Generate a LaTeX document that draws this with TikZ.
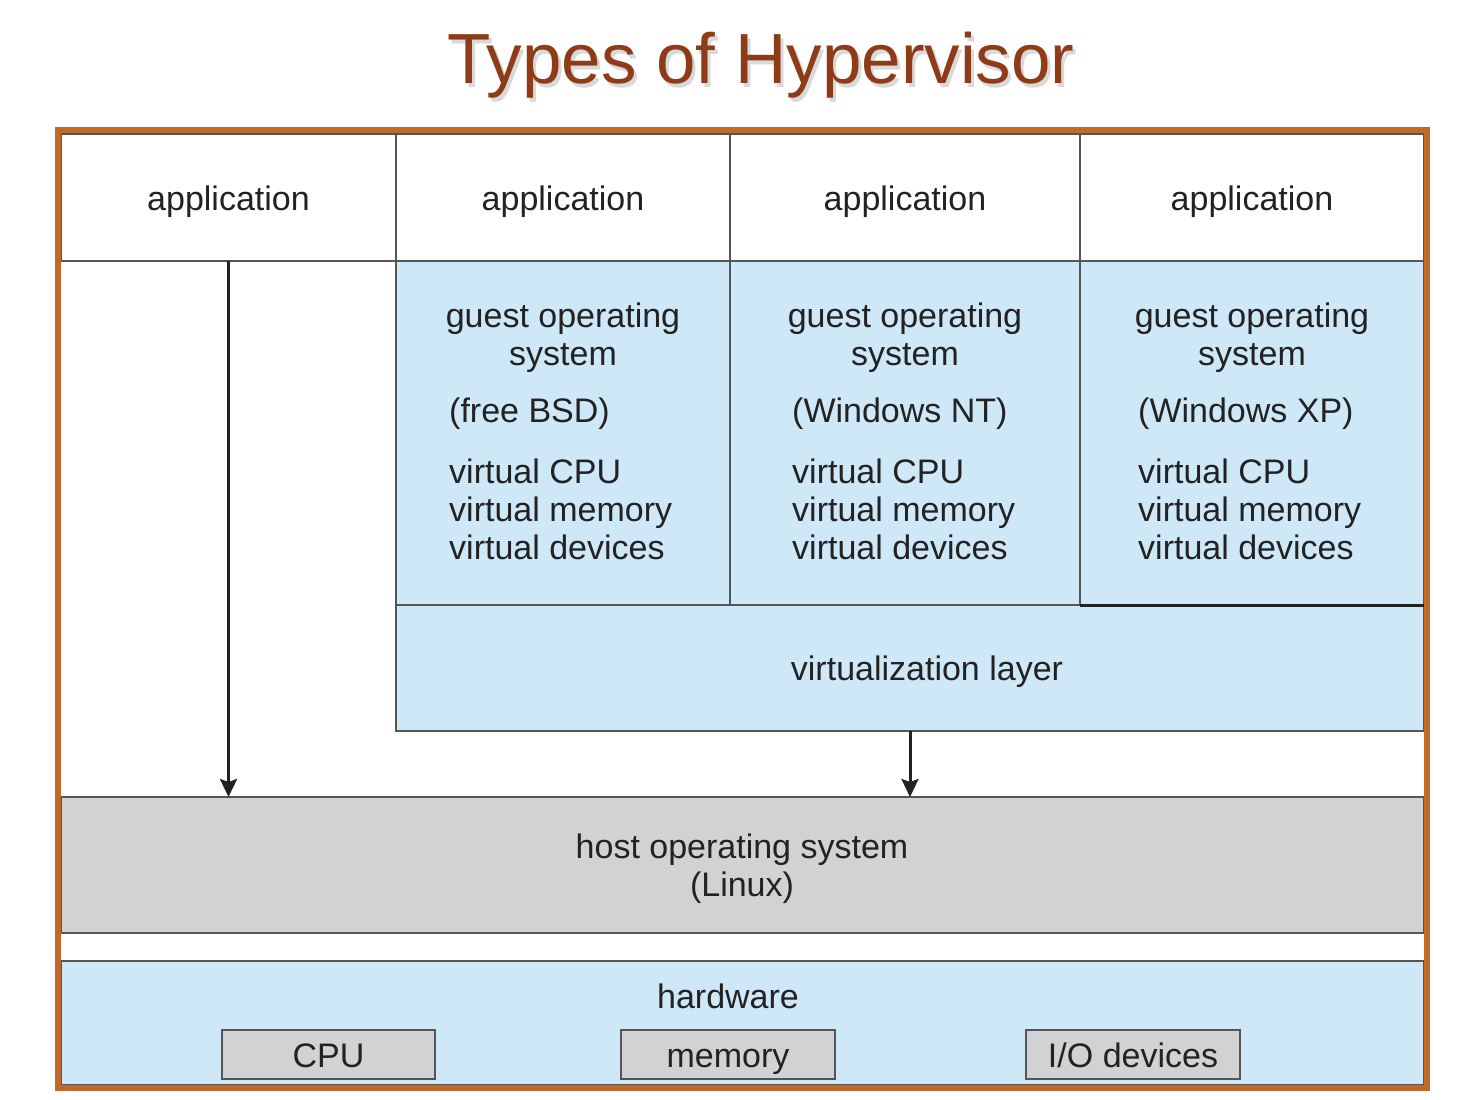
\documentclass[tikz,border=0pt]{standalone}
\usepackage{fontspec}
\setmainfont{Liberation Sans}
\usetikzlibrary{arrows.meta}

\definecolor{frameorange}{HTML}{C0692A}
\definecolor{titlebrown}{HTML}{8E3B17}
\definecolor{vmblue}{HTML}{CFE8F7}
\definecolor{hostgray}{HTML}{D1D2D4}
\definecolor{edgegray}{HTML}{555555}
\definecolor{inkgray}{HTML}{222222}

\tikzset{
  layer/.style={draw=edgegray, line width=1.5pt, inner sep=0pt, outer sep=0pt,
    anchor=north west, font=\fontsize{34}{38}\selectfont, text=inkgray,
    text height=32pt, text depth=6pt},
  lbl/.style={font=\fontsize{34}{38}\selectfont, text=inkgray, inner sep=0pt},
  call/.style={-{Stealth[length=18pt,width=17pt,inset=3pt]}, line width=3pt, inkgray},
}

\begin{document}
\begin{tikzpicture}[x=1pt,y=-1pt]
  \useasboundingbox (0,0) rectangle (1462,1100);

  % Titel mit Schatten
  \node[anchor=base, font=\fontsize{71}{80}\selectfont, text=black, opacity=0.15]
    at (764,87) {Types of Hypervisor};
  \node[anchor=base, font=\fontsize{71}{80}\selectfont, text=titlebrown]
    (title) at (761,83) {Types of Hypervisor};

  % Anwendungen
  \node[layer, fill=white, minimum width=335pt, minimum height=127pt] (app1) at (61,134) {application};
  \node[layer, fill=white, minimum width=334pt, minimum height=127pt] (app2) at (396,134) {application};
  \node[layer, fill=white, minimum width=350pt, minimum height=127pt] (app3) at (730,134) {application};
  \node[layer, fill=white, minimum width=344pt, minimum height=127pt] (app4) at (1080,134) {application};

  % Gastbetriebssysteme
  \node[layer, fill=vmblue, minimum width=334pt, minimum height=344pt] (guest1) at (396,261) {};
  \node[layer, fill=vmblue, minimum width=350pt, minimum height=344pt] (guest2) at (730,261) {};
  \node[layer, fill=vmblue, minimum width=344pt, minimum height=344pt] (guest3) at (1080,261) {};

  \node[lbl, align=center] (g1os) at (563,338) {guest operating\\system};
  \node[lbl, anchor=west] (g1name) at (449,414) {(free BSD)};
  \node[lbl, anchor=west, align=left] (g1virt) at (449,509) {virtual CPU\\virtual memory\\virtual devices};

  \node[lbl, align=center] (g2os) at (905,338) {guest operating\\system};
  \node[lbl, anchor=west] (g2name) at (792,414) {(Windows NT)};
  \node[lbl, anchor=west, align=left] (g2virt) at (792,509) {virtual CPU\\virtual memory\\virtual devices};

  \node[lbl, align=center] (g3os) at (1252,338) {guest operating\\system};
  \node[lbl, anchor=west] (g3name) at (1138,414) {(Windows XP)};
  \node[lbl, anchor=west, align=left] (g3virt) at (1138,509) {virtual CPU\\virtual memory\\virtual devices};

  % Virtualisierungsschicht
  \node[layer, fill=vmblue, minimum width=1028pt, minimum height=126pt] (virt) at (396,605) {};
  \node[lbl] (virtlbl) at (927,672) {virtualization layer};
  \draw[inkgray, line width=3pt] (guest3.south west) -- (guest3.south east);

  % Host
  \node[layer, fill=hostgray, minimum width=1363pt, minimum height=136pt] (host) at (61,797) {};
  \node[lbl, align=center] (hostlbl) at (742,869) {host operating system\\(Linux)};

  % Hardware
  \node[layer, fill=vmblue, minimum width=1363pt, minimum height=124pt] (hw) at (61,961) {};
  \node[lbl] (hwlbl) at (728,996) {hardware};
  \node[layer, fill=hostgray, anchor=center, minimum width=213pt, minimum height=49pt] (cpu) at (328.5,1054.5) {CPU};
  \node[layer, fill=hostgray, anchor=center, minimum width=214pt, minimum height=49pt] (mem) at (728,1054.5) {memory};
  \node[layer, fill=hostgray, anchor=center, minimum width=214pt, minimum height=49pt] (io) at (1133,1054.5) {I/O devices};

  % Aufrufe
  \draw[call] (app1.south) -- (app1.south |- host.north);
  \draw[call] (virt.south) -- (virt.south |- host.north);

  % Rahmen
  \draw[frameorange, line width=6pt] (58,130) rectangle (1427,1088);
\end{tikzpicture}
\end{document}
